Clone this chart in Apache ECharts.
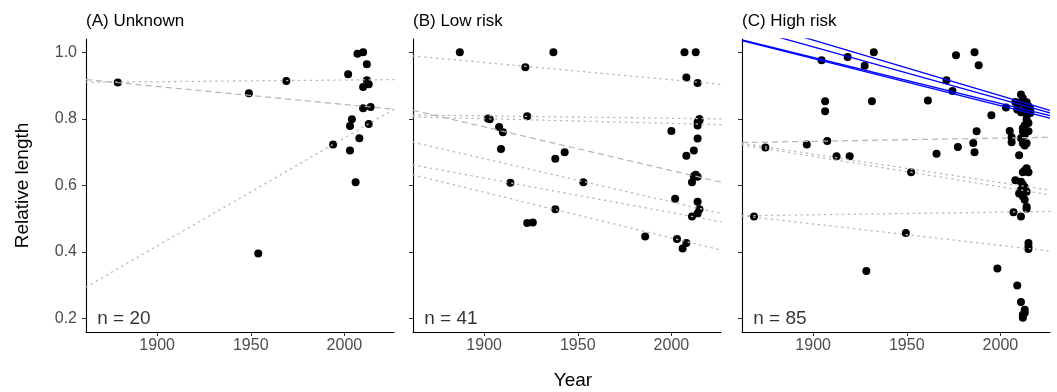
<!DOCTYPE html>
<html>
<head>
<meta charset="utf-8">
<script src="https://cdn.jsdelivr.net/npm/echarts@6/dist/echarts.min.js"></script>
<style>
html,body{margin:0;padding:0;background:#fff;}
#chart{width:1057px;height:392px;}
</style>
</head>
<body>
<div id="chart"></div>
<script>
// ---------- data ----------
const panelTitles = ['(A) Unknown', '(B) Low risk', '(C) High risk'];
const sampleSizes = [20, 41, 85];
const xTicks = [1900, 1950, 2000];
const yTicks = [0.2, 0.4, 0.6, 0.8, 1.0];

// points: [year, relative length]
const pointsA = [
  [1879,0.909],[1949,0.877],[1969,0.914],[1954,0.396],[1994,0.723],[2002,0.934],[2003,0.705],
  [2003,0.779],[2004,0.799],[2006,0.610],[2007,0.996],[2010,1.0],[2012,0.964],[2012,0.916],
  [2013,0.904],[2010,0.896],[2010,0.832],[2014,0.836],[2013,0.785],[2008,0.742]
];
const pointsB = [
  [1887,1.0],[1937,1.0],[1922,0.955],[1902,0.801],[1903,0.799],[1923,0.808],[1908,0.776],
  [1910,0.760],[1909,0.710],[1938,0.680],[1943,0.700],[1914,0.608],[1953,0.610],[1923,0.487],
  [1926,0.489],[1938,0.529],[1986,0.447],
  [2007,1.0],[2013,1.0],[2008,0.924],[2014,0.908],[2015,0.800],[2014,0.791],[2014,0.780],
  [2000,0.764],[2014,0.741],[2012,0.705],[2008,0.689],[2012,0.628],[2014,0.626],[2011,0.610],
  [2002,0.560],[2014,0.551],[2015,0.529],[2014,0.516],[2011,0.507],[2003,0.439],[2008,0.427],
  [2006,0.411],[2015,0.795],[2013,0.632]
];
const pointsC = [
  [1904.5,0.976],[1918.4,0.986],[1927.5,0.960],[1932.4,1.0],[1906.4,0.853],[1906.4,0.823],
  [1931.4,0.853],[1961.3,0.855],[1874.5,0.714],[1896.6,0.723],[1907.5,0.734],[1912.5,0.688],
  [1919.5,0.688],[1952.3,0.640],[1868.4,0.507],[1949.5,0.457],[1928.4,0.343],[1965.9,0.695],
  [1976.3,0.991],[1986.2,1.0],[1988.4,0.961],[1971.2,0.916],[1974.4,0.884],[1995.2,0.811],
  [1987.3,0.763],[1977.3,0.716],[1985.5,0.728],[1986.2,0.700],[1998.4,0.351],
  [2011,0.873],[2012,0.862],[2008,0.851],[2010,0.848],[2012,0.846],[2014,0.843],[2015,0.838],
  [2003,0.834],[2009,0.828],[2013,0.826],[2016,0.830],[2011,0.820],[2014,0.812],[2014,0.798],
  [2015,0.788],[2013,0.781],[2005,0.764],[2012,0.762],[2015,0.763],[2013,0.752],[2006,0.745],
  [2011,0.742],[2006,0.730],[2012,0.727],[2014,0.727],[2013,0.720],[2010,0.691],[2014,0.652],
  [2013,0.645],[2012,0.640],[2015,0.640],[2008,0.616],[2011,0.611],[2012,0.603],[2013,0.595],
  [2011,0.587],[2014,0.581],[2010,0.576],[2012,0.567],[2013,0.557],[2014,0.536],[2014,0.530],
  [2007,0.520],[2011,0.507],[2015,0.427],[2015,0.417],[2015,0.409],[2009,0.300],[2011,0.250],
  [2013,0.227],[2012,0.212],[2012,0.203],[2013,0.218],[2014,0.850],[2012,0.772],[2016,0.818]
];

// fitted lines: [value at left axis limit, value at right axis limit, kind]
const fitsA = [
  [0.910, 0.918, 'dotted'],
  [0.918, 0.829, 'dashed'],
  [0.295, 0.829, 'dotted']
];
const fitsB = [
  [0.989, 0.904, 'dotted'],
  [0.812, 0.800, 'dotted'],
  [0.806, 0.783, 'dotted'],
  [0.826, 0.610, 'dashed'],
  [0.730, 0.516, 'dotted'],
  [0.662, 0.491, 'dotted'],
  [0.632, 0.406, 'dotted']
];
const fitsC = [
  [0.729, 0.745, 'dashed'],
  [0.727, 0.586, 'dotted'],
  [0.722, 0.572, 'dotted'],
  [0.509, 0.522, 'dotted'],
  [0.509, 0.403, 'dotted'],
  [1.037, 0.810, 'blue'],
  [1.035, 0.802, 'blue'],
  [1.076, 0.818, 'blue'],
  [1.100, 0.826, 'blue']
];

// ---------- chart ----------
const X_MIN = 1862, X_MAX = 2026.5, Y_MIN = 0.16, Y_MAX = 1.04;
const FONT = "'Liberation Sans', Arial, Helvetica, sans-serif";
const panelLefts = [86, 413, 742];
const PANEL_W = 308, PANEL_TOP = 39, PANEL_H = 293;
const allPoints = [pointsA, pointsB, pointsC];
const allFits = [fitsA, fitsB, fitsC];

const styleFor = {
  dotted: { color: '#b8b8b8', width: 1.3, type: [1.3, 4.6], cap: 'round' },
  dashed: { color: '#b3b3b3', width: 1.2, type: [6, 4] },
  blue:   { color: '#0000ff', width: 1.3, type: 'solid' }
};

const grids = [], xAxes = [], yAxes = [], series = [], graphics = [];
for (let i = 0; i < 3; i++) {
  grids.push({ left: panelLefts[i], top: PANEL_TOP, width: PANEL_W, height: PANEL_H, containLabel: false });
  xAxes.push({
    type: 'value', gridIndex: i, min: X_MIN, max: X_MAX,
    splitLine: { show: false },
    axisLine: { show: true, onZero: false, lineStyle: { color: '#000', width: 1.1 } },
    axisTick: { show: true, length: 4, customValues: xTicks, lineStyle: { color: '#333', width: 1 } },
    axisLabel: { show: true, customValues: xTicks, margin: 6, color: '#4d4d4d', fontSize: 16, fontFamily: FONT,
                 formatter: v => String(Math.round(v)) }
  });
  yAxes.push({
    type: 'value', gridIndex: i, min: Y_MIN, max: Y_MAX,
    splitLine: { show: false },
    axisLine: { show: true, onZero: false, lineStyle: { color: '#000', width: 1.1 } },
    axisTick: { show: true, length: 4, customValues: yTicks, lineStyle: { color: '#333', width: 1 } },
    axisLabel: { show: i === 0, customValues: yTicks, margin: 9, color: '#4d4d4d', fontSize: 16, fontFamily: FONT,
                 formatter: v => Number(v).toFixed(1) },
    name: i === 0 ? 'Relative length' : '',
    nameLocation: 'middle', nameGap: 54,
    nameTextStyle: { color: '#000', fontSize: 19, fontFamily: FONT }
  });
  series.push({
    type: 'scatter', xAxisIndex: i, yAxisIndex: i, data: allPoints[i],
    symbol: 'circle', symbolSize: 8, itemStyle: { color: '#000', opacity: 1 }, z: 2, silent: true
  });
  allFits[i].forEach(f => {
    series.push({
      type: 'line', xAxisIndex: i, yAxisIndex: i,
      data: [[X_MIN, f[0]], [X_MAX, f[1]]],
      symbol: 'none', showSymbol: false, clip: true, silent: true,
      lineStyle: styleFor[f[2]], z: f[2] === 'blue' ? 4 : 3
    });
  });
  // sample size annotation anchored in data coordinates
  series.push({
    type: 'scatter', xAxisIndex: i, yAxisIndex: i,
    data: [[1868, 0.2]], symbolSize: 0, silent: true, z: 5,
    label: { show: true, formatter: 'n = ' + sampleSizes[i], position: 'right', distance: 0,
             color: '#000', fontSize: 19, fontFamily: FONT }
  });
  graphics.push({
    type: 'text', x: panelLefts[i], y: 21,
    style: { text: panelTitles[i], fill: '#000', font: '17px ' + FONT, textAlign: 'left', textVerticalAlign: 'middle' }
  });
}
graphics.push({
  type: 'text', x: 573, y: 381,
  style: { text: 'Year', fill: '#000', font: '19px ' + FONT, textAlign: 'center', textVerticalAlign: 'middle' }
});

const chart = echarts.init(document.getElementById('chart'), null, { renderer: 'canvas' });
chart.setOption({
  animation: false,
  backgroundColor: '#fff',
  grid: grids, xAxis: xAxes, yAxis: yAxes, series: series, graphic: graphics
});
</script>
</body>
</html>
